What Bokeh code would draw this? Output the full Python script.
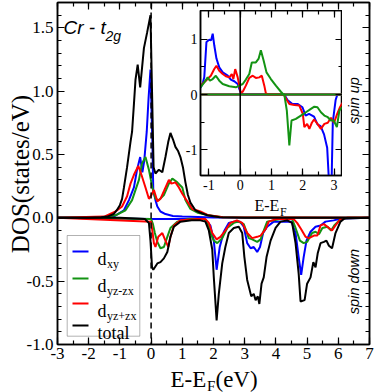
import numpy as np
from math import pi
from bokeh.plotting import figure
from bokeh.models import (Range1d, LinearAxis, FixedTicker, Label, Span, BoxAnnotation)
from bokeh.embed import file_html
from bokeh.resources import INLINE

# ---------------- main panel data (E - E_F in eV, DOS in states/eV) ----------------
xy_up_e = [-3.0, -1.5, -1.2, -0.87, -0.71, -0.55, -0.45, -0.35, -0.28, -0.22, -0.14, -0.08, -0.02,
           0.04, 0.07, 0.14, 0.2, 0.3, 0.46, 0.7, 1.0, 2.0, 7.0]
xy_up = [0.0, 0.003, 0.01, 0.06, 0.14, 0.24, 0.38, 0.48, 0.36, 0.45, 0.68, 0.95, 1.17,
         0.60, 0.22, 0.14, 0.09, 0.05, 0.03, 0.015, 0.01, 0.003, 0.0]

xy_dn_e = [-3.0, 0.0, 1.7, 1.9, 2.01, 2.1, 2.2, 2.33, 2.49, 2.65, 2.85, 2.97, 3.08, 3.19, 3.29,
           3.40, 3.49, 3.59, 3.72, 3.93, 4.5, 4.63, 4.73, 4.81, 4.89, 4.98, 5.11, 5.27, 5.43,
           5.59, 5.85, 6.1, 7.0]
xy_dn = [0.0, -0.01, -0.01, -0.06, -0.18, -0.41, -0.23, -0.11, -0.04, -0.03, -0.03, -0.07, -0.20,
         -0.24, -0.23, -0.27, -0.23, -0.12, -0.07, -0.03, -0.03, -0.12, -0.31, -0.45, -0.31,
         -0.18, -0.11, -0.07, -0.06, -0.03, -0.02, -0.005, 0.0]

yzm_up_e = [-3.0, -1.5, -1.14, -0.82, -0.61, -0.39, -0.29, -0.18, -0.07, 0.04, 0.14, 0.25, 0.41,
            0.57, 0.68, 0.84, 1.0, 1.10, 1.26, 1.5, 1.84, 2.3, 7.0]
yzm_up = [0.0, 0.005, 0.02, 0.06, 0.14, 0.30, 0.43, 0.48, 0.38, 0.24, 0.15, 0.14, 0.18,
          0.27, 0.31, 0.28, 0.24, 0.14, 0.07, 0.04, 0.02, 0.005, 0.0]

yzm_dn_e = [-3.0, 0.0, 0.06, 0.12, 0.2, 0.3, 0.41, 0.52, 0.62, 0.84, 1.2, 1.7, 1.8, 1.9, 2.01,
            2.12, 2.28, 2.44, 2.65, 2.8, 2.97, 3.13, 3.24, 3.40, 3.51, 3.61, 3.72, 4.15, 4.52,
            4.63, 4.77, 4.89, 5.0, 5.16, 5.27, 5.38, 5.49, 5.65, 5.77, 5.87, 6.07, 6.3, 7.0]
yzm_dn = [0.0, -0.01, -0.05, -0.12, -0.19, -0.24, -0.23, -0.15, -0.08, -0.03, -0.01, -0.01,
          -0.03, -0.12, -0.18, -0.20, -0.16, -0.08, -0.04, -0.03, -0.05, -0.16, -0.17, -0.19,
          -0.17, -0.10, -0.03, -0.01, -0.01, -0.08, -0.18, -0.20, -0.19, -0.12, -0.11, -0.13,
          -0.08, -0.07, -0.10, -0.06, -0.01, 0.0, 0.0]

yzp_up_e = [-3.0, -1.5, -1.14, -0.93, -0.77, -0.66, -0.55, -0.41, -0.31, -0.18, -0.07, 0.01, 0.09,
            0.2, 0.30, 0.41, 0.57, 0.65, 0.78, 0.89, 1.0, 1.16, 1.32, 1.58, 1.84, 2.3, 7.0]
yzp_up = [0.0, 0.01, 0.05, 0.09, 0.17, 0.27, 0.34, 0.41, 0.34, 0.24, 0.15, 0.18, 0.22,
          0.13, 0.15, 0.21, 0.30, 0.27, 0.28, 0.24, 0.19, 0.13, 0.07, 0.05, 0.02, 0.005, 0.0]

yzp_dn_e = [-3.0, 0.0, 0.05, 0.09, 0.14, 0.23, 0.36, 0.46, 0.55, 0.62, 0.73, 0.94, 1.5, 1.74,
            1.85, 1.96, 2.1, 2.22, 2.38, 2.54, 2.75, 2.92, 3.08, 3.24, 3.40, 3.51, 3.67, 3.77,
            4.0, 4.57, 4.68, 4.81, 4.95, 5.06, 5.22, 5.33, 5.43, 5.54, 5.70, 5.80, 5.91, 6.07,
            6.3, 7.0]
yzp_dn = [0.0, -0.03, -0.12, -0.20, -0.23, -0.15, -0.12, -0.18, -0.23, -0.15, -0.06, -0.02,
          -0.01, -0.01, -0.04, -0.12, -0.17, -0.15, -0.10, -0.04, -0.02, -0.04, -0.12, -0.16,
          -0.15, -0.14, -0.09, -0.03, -0.01, -0.01, -0.04, -0.09, -0.15, -0.16, -0.14, -0.14,
          -0.06, -0.05, -0.08, -0.10, -0.06, -0.01, 0.0, 0.0]

tot_up_e = [-3.0, -2.0, -1.6, -1.4, -1.2, -1.1, -1.0, -0.93, -0.87, -0.77, -0.66, -0.61, -0.55,
            -0.50, -0.43, -0.35, -0.23, -0.13, -0.02, 0.08, 0.14, 0.25, 0.36, 0.46, 0.55, 0.62,
            0.70, 0.78, 0.86, 0.94, 1.02, 1.10, 1.18, 1.26, 1.42, 1.58, 1.8, 2.2, 3.0, 7.0]
tot_up = [0.0, 0.0, 0.005, 0.01, 0.03, 0.06, 0.10, 0.15, 0.24, 0.40, 0.60, 0.68, 0.90, 1.09,
          1.21, 1.03, 1.34, 1.46, 1.60, 0.40, 0.35, 0.38, 0.36, 0.48, 0.60, 0.67, 0.62, 0.56,
          0.53, 0.48, 0.40, 0.28, 0.18, 0.12, 0.06, 0.04, 0.02, 0.005, 0.0, 0.0]

tot_dn_e = [-3.0, -1.0, -0.5, -0.2, -0.07, -0.02, 0.03, 0.07, 0.2, 0.3, 0.41, 0.52, 0.62, 0.73,
            0.94, 1.3, 1.58, 1.74, 1.85, 1.96, 2.01, 2.10, 2.17, 2.28, 2.38, 2.49, 2.65, 2.81,
            2.92, 2.99, 3.08, 3.21, 3.29, 3.35, 3.42, 3.47, 3.54, 3.61, 3.70, 3.83, 3.99, 4.15,
            4.36, 4.52, 4.63, 4.73, 4.79, 4.92, 5.00, 5.11, 5.20, 5.27, 5.34, 5.43, 5.54, 5.62,
            5.70, 5.80, 5.91, 6.07, 6.2, 7.0]
tot_dn = [0.0, 0.0, -0.005, -0.01, -0.04, -0.18, -0.39, -0.41, -0.36, -0.35, -0.32, -0.27,
          -0.15, -0.07, -0.03, -0.02, -0.02, -0.03, -0.10, -0.25, -0.47, -0.81, -0.60, -0.36,
          -0.23, -0.12, -0.08, -0.07, -0.12, -0.31, -0.49, -0.62, -0.60, -0.65, -0.62, -0.68,
          -0.52, -0.47, -0.31, -0.18, -0.08, -0.03, -0.02, -0.04, -0.20, -0.44, -0.66, -0.65,
          -0.52, -0.47, -0.35, -0.39, -0.28, -0.20, -0.19, -0.18, -0.22, -0.24, -0.12, -0.03,
          -0.005, 0.0]

# ---------------- inset data ----------------
in_xy_up_e = [-1.27, -1.2, -1.15, -1.08, -0.99, -0.93, -0.88, -0.83, -0.76, -0.67, -0.56, -0.40,
              -0.30, -0.19, -0.08, -0.03, 0.02, 0.1, 3.27]
in_xy_up = [0.12, 0.2, 0.31, 0.95, 0.99, 0.98, 1.10, 0.89, 0.65, 0.49, 0.40, 0.34, 0.27, 0.24,
            0.19, 0.10, 0.03, 0.0, 0.0]
in_yzp_up_e = [-1.27, -1.1, -0.94, -0.83, -0.76, -0.67, -0.56, -0.46, -0.35, -0.27, -0.22, -0.16,
               -0.08, -0.03, 0.02, 0.08, 0.18, 0.29, 0.40, 0.50, 0.61, 0.69, 0.77, 0.82, 0.9, 3.27]
in_yzp_up = [0.16, 0.25, 0.34, 0.46, 0.52, 0.43, 0.37, 0.33, 0.31, 0.37, 0.28, 0.46, 0.31, 0.16,
             0.03, 0.05, 0.16, 0.30, 0.34, 0.30, 0.31, 0.34, 0.16, 0.02, 0.0, 0.0]
in_yzm_up_e = [-1.27, -1.15, -1.04, -0.97, -0.88, -0.78, -0.67, -0.56, -0.35, -0.14, -0.03, 0.08,
               0.18, 0.29, 0.37, 0.50, 0.59, 0.66, 0.75, 0.84, 0.98, 1.14, 1.30, 1.38, 3.27]
in_yzm_up = [0.13, 0.22, 0.31, 0.25, 0.28, 0.34, 0.25, 0.19, 0.15, 0.13, 0.16, 0.19, 0.27, 0.37,
             0.58, 0.58, 0.65, 0.80, 0.61, 0.40, 0.28, 0.16, 0.05, 0.0, 0.0]
in_xy_dn_e = [-1.27, 1.41, 1.51, 1.67, 1.83, 1.99, 2.09, 2.20, 2.36, 2.47, 2.57, 2.68, 2.78, 2.84,
              2.92, 2.96, 3.05, 3.10, 3.27]
in_xy_dn = [0.0, 0.0, -0.10, -0.17, -0.17, -0.23, -0.38, -0.35, -0.40, -0.54, -0.57, -0.72, -0.96,
            -1.6, -1.6, -0.5, -0.1, -0.01, 0.0]
in_yzp_dn_e = [-1.27, 1.39, 1.49, 1.57, 1.73, 1.89, 2.0, 2.05, 2.14, 2.21, 2.29, 2.36, 2.47, 2.58,
               2.69, 2.8, 2.9, 3.0, 3.1, 3.19, 3.27]
in_yzp_dn = [0.0, 0.0, -0.10, -0.17, -0.19, -0.20, -0.35, -0.59, -0.53, -0.62, -0.51, -0.45,
             -0.53, -0.62, -0.53, -0.51, -0.42, -0.51, -0.35, -0.23, -0.15]
in_yzm_dn_e = [-1.27, 1.41, 1.49, 1.57, 1.64, 1.78, 1.94, 2.10, 2.26, 2.37, 2.47, 2.58, 2.69, 2.80,
               2.90, 2.99, 3.09, 3.17, 3.27]
in_yzm_dn = [0.0, 0.0, -0.29, -0.92, -0.47, -0.44, -0.38, -0.32, -0.26, -0.22, -0.23, -0.32,
             -0.38, -0.41, -0.47, -0.47, -0.59, -0.29, -0.22]

x_ticks = [-3, -2, -1, 0, 1, 2, 3, 4, 5, 6, 7]
y_ticks = [-1.0, -0.5, 0.0, 0.5, 1.0, 1.5]
in_x_ticks = [-1, 0, 1, 2, 3]
in_y_ticks = [-1, 0, 1]

BLUE, GREEN, RED, BLACK = "#0000ff", "#139313", "#ff0000", "#000000"
SERIF, SANS = "Liberation Serif, serif", "Liberation Sans, sans-serif"

# ---------------- main figure (canvas pixels == picture pixels) ----------------
W, H = 374, 392
BL, BR, BT, BB = 57, 5, 2, 48
X0, X1, Y0, Y1 = -3.0, 7.0, -1.0, 1.7
FW, FH = W - BL - BR, H - BT - BB


def cx(px):  # canvas px -> data x
    return X0 + (px - BL) * (X1 - X0) / FW


def cy(py):  # canvas py -> data y
    return Y1 - (py - BT) * (Y1 - Y0) / FH


p = figure(width=W, height=H, x_range=Range1d(X0, X1), y_range=Range1d(Y0, Y1),
           output_backend="svg", toolbar_location=None,
           min_border_left=BL, min_border_right=BR, min_border_top=BT, min_border_bottom=BB,
           x_axis_location=None, y_axis_location=None)
p.xgrid.visible = False
p.ygrid.visible = False
p.outline_line_color = "black"
p.outline_line_width = 1.5


def mk_axis(ticker, overrides, show, size="17px", standoff=4, tin=7, mtin=4):
    ax = LinearAxis(ticker=ticker)
    ax.axis_line_width = 1.5
    ax.major_tick_in = tin
    ax.major_tick_out = 0
    ax.minor_tick_in = mtin
    ax.minor_tick_out = 0
    ax.major_tick_line_width = 1.2
    ax.minor_tick_line_width = 1.2
    ax.major_label_text_font = SERIF
    ax.major_label_text_color = "black"
    if show:
        ax.major_label_overrides = overrides
        ax.major_label_text_font_size = size
        ax.major_label_standoff = standoff
    else:
        ax.major_label_overrides = {k: "" for k in overrides}
        ax.major_label_text_font_size = "1px"
        ax.major_label_standoff = 0
    return ax


xt = FixedTicker(ticks=x_ticks, minor_ticks=[float(v) for v in np.arange(-3.0, 7.01, 0.5)])
yt = FixedTicker(ticks=y_ticks, minor_ticks=[round(float(v), 2) for v in np.arange(-1.0, 1.701, 0.1)])
x_over = {t: str(t) for t in x_ticks}
y_over = {t: f"{t:.1f}" for t in y_ticks}
p.add_layout(mk_axis(xt, x_over, True, standoff=3), "below")
p.add_layout(mk_axis(yt, y_over, True, standoff=4), "left")
p.add_layout(mk_axis(xt, x_over, False), "above")
p.add_layout(mk_axis(yt, y_over, False), "right")

# legend frame (under the curves)
p.add_layout(BoxAnnotation(left=cx(66.7), right=cx(139.3), top=cy(235), bottom=cy(335.7),
                           fill_color="white", fill_alpha=1.0, line_color="black",
                           line_width=1, level="underlay"))

series = [(xy_up_e, xy_up, BLUE), (xy_dn_e, xy_dn, BLUE),
          (yzm_up_e, yzm_up, GREEN), (yzm_dn_e, yzm_dn, GREEN),
          (yzp_up_e, yzp_up, RED), (yzp_dn_e, yzp_dn, RED),
          (tot_up_e, tot_up, BLACK), (tot_dn_e, tot_dn, BLACK)]
for e, v, c in series:
    p.line(e, v, line_color=c, line_width=2)

p.add_layout(Span(location=0, dimension="height", line_color="black",
                  line_dash="6 4", line_width=1.5))

# legend swatches and texts
rows_px = [251, 278, 303, 325]
p.segment(x0=[cx(72)] * 4, x1=[cx(88)] * 4, y0=[cy(r) for r in rows_px],
          y1=[cy(r) for r in rows_px], line_color=[BLUE, GREEN, RED, BLACK], line_width=2)
leg_main = ["d", "d", "d", "total"]
leg_sub = ["xy", "yz-zx", "yz+zx", ""]
for r, mtxt, stxt in zip(rows_px, leg_main, leg_sub):
    p.add_layout(Label(x=cx(97), y=cy(r + 7), text=mtxt, text_font=SERIF,
                       text_font_size="18px", text_baseline="alphabetic", text_color="black"))
    if stxt:
        p.add_layout(Label(x=cx(106.5), y=cy(r + 12), text=stxt, text_font=SERIF,
                           text_font_size="12px", text_baseline="alphabetic", text_color="black"))

# panel annotation
p.add_layout(Label(x=cx(63), y=cy(27), text="Cr - t", text_font=SANS, text_font_style="italic",
                   text_font_size="19px", text_baseline="alphabetic", text_color="black"))
p.add_layout(Label(x=cx(105), y=cy(35), text="2g", text_font=SANS, text_font_style="italic",
                   text_font_size="14px", text_baseline="alphabetic", text_color="black"))

for txt, yr in [("spin up", 100), ("spin down", 281)]:
    p.add_layout(Label(x=cx(353), y=cy(yr), text=txt, angle=pi / 2, text_align="center",
                       text_baseline="middle", text_font=SANS, text_font_style="italic",
                       text_font_size="14.5px", text_color="black"))

# ---------------- inset figure ----------------
IFW, IFH = 142, 165
IBL, IBB = 20, 24
IX0, IX1, IY0, IY1 = -1.27, 3.27, -1.463, 1.518

pin = figure(width=IBL + IFW, height=IFH + IBB, x_range=Range1d(IX0, IX1),
             y_range=Range1d(IY0, IY1), output_backend="svg", toolbar_location=None,
             min_border_left=IBL, min_border_right=0, min_border_top=0, min_border_bottom=IBB,
             x_axis_location=None, y_axis_location=None,
             border_fill_color=None, background_fill_color="white")
pin.xgrid.visible = False
pin.ygrid.visible = False
pin.outline_line_color = "black"
pin.outline_line_width = 1.5

ixt = FixedTicker(ticks=in_x_ticks, minor_ticks=[float(v) for v in np.arange(-1.0, 3.01, 0.5)])
iyt = FixedTicker(ticks=in_y_ticks, minor_ticks=[-1.0, -0.5, 0.0, 0.5, 1.0])
ix_over = {t: str(t) for t in in_x_ticks}
iy_over = {t: str(t) for t in in_y_ticks}
pin.add_layout(mk_axis(ixt, ix_over, True, size="14px", standoff=4), "below")
pin.add_layout(mk_axis(iyt, iy_over, True, size="14px", standoff=3), "left")
pin.add_layout(mk_axis(ixt, ix_over, False), "above")
pin.add_layout(mk_axis(iyt, iy_over, False), "right")

inset_series = [(in_xy_up_e, in_xy_up, BLUE), (in_xy_dn_e, in_xy_dn, BLUE),
                (in_yzp_up_e, in_yzp_up, RED), (in_yzp_dn_e, in_yzp_dn, RED),
                (in_yzm_up_e, in_yzm_up, GREEN), (in_yzm_dn_e, in_yzm_dn, GREEN)]
for e, v, c in inset_series:
    pin.line(e, v, line_color=c, line_width=2)
pin.add_layout(Span(location=0, dimension="height", line_color="black", line_width=1.5))

# ---------------- transparent overlay for the texts outside the frames ----------------
ov = figure(width=W, height=H, x_range=Range1d(0, W), y_range=Range1d(0, H),
            output_backend="svg", toolbar_location=None, title=None,
            min_border_left=0, min_border_right=0, min_border_top=0, min_border_bottom=0,
            x_axis_location=None, y_axis_location=None,
            border_fill_color=None, background_fill_color=None, outline_line_color=None)
ov.xgrid.visible = False
ov.ygrid.visible = False


def T(px, py, text, size, font=SERIF, **kw):
    ov.add_layout(Label(x=px, y=H - py, text=text, text_font=font, text_font_size=size,
                        text_color="black", **kw))


T(19.5, 173.5, "DOS(states/eV)", "25px", angle=pi / 2, text_align="center",
  text_baseline="alphabetic")
T(170, 379, "E-E", "23px", text_baseline="alphabetic")
T(206.5, 385, "F", "15px", text_baseline="alphabetic")
T(215, 379, "(eV)", "23px", text_baseline="alphabetic")
T(254, 205, "E-E", "16px", text_baseline="alphabetic")
T(279.5, 211, "F", "12px", text_baseline="alphabetic")

pin.styles = {"position": "absolute", "left": "180px", "top": "10px"}
ov.styles = {"position": "absolute", "left": "0px", "top": "0px"}

open("out.html", "w").write(file_html([p, pin, ov], INLINE))
